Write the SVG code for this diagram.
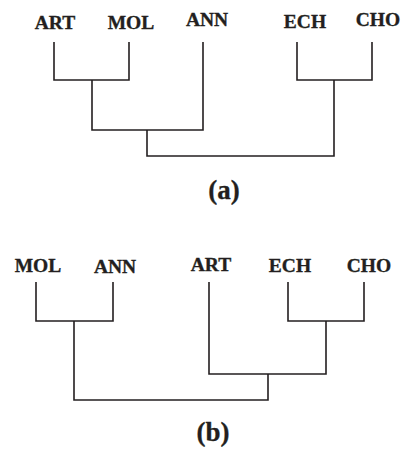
<svg xmlns="http://www.w3.org/2000/svg" width="406" height="453" viewBox="0 0 406 453">
<style>
.t{font-family:"Liberation Serif","Times New Roman",serif;font-weight:bold;font-size:19.5px;fill:#231f20;stroke:#231f20;stroke-width:0.35;text-anchor:middle}
.c{font-family:"Liberation Serif","Times New Roman",serif;font-weight:bold;font-size:27px;fill:#231f20;stroke:#231f20;stroke-width:0.3;text-anchor:middle}
.e{fill:none;stroke:#231f20;stroke-width:1.6}
</style>
<rect width="406" height="453" fill="#fff"/>
<g id="tree-a-labels">
<g id="a-ART"><text class="t" x="55" y="29">ART</text></g>
<g id="a-MOL"><text class="t" x="131" y="29">MOL</text></g>
<g id="a-ANN"><text class="t" x="207" y="26">ANN</text></g>
<g id="a-ECH"><text class="t" x="305" y="28">ECH</text></g>
<g id="a-CHO"><text class="t" x="378" y="26">CHO</text></g>
<g id="a-caption"><text class="c" x="224" y="199">(a)</text></g>
</g>
<g id="tree-b-labels">
<g id="b-MOL"><text class="t" x="38" y="272">MOL</text></g>
<g id="b-ANN"><text class="t" x="115" y="273">ANN</text></g>
<g id="b-ART"><text class="t" x="211" y="271">ART</text></g>
<g id="b-ECH"><text class="t" x="290" y="272">ECH</text></g>
<g id="b-CHO"><text class="t" x="369" y="272">CHO</text></g>
<g id="b-caption"><text class="c" x="213" y="441">(b)</text></g>
</g>
<g id="connectors">
<path class="e" d="M54,42V80H129V42M92,80V130H203V42M297,42V80H372V42M334,80V156H147V130"/>
<path class="e" d="M36,282V321H113V282M288,282V321H364V282M326,321V374H209V282M268,374V400H74V321"/>
</g>
</svg>
